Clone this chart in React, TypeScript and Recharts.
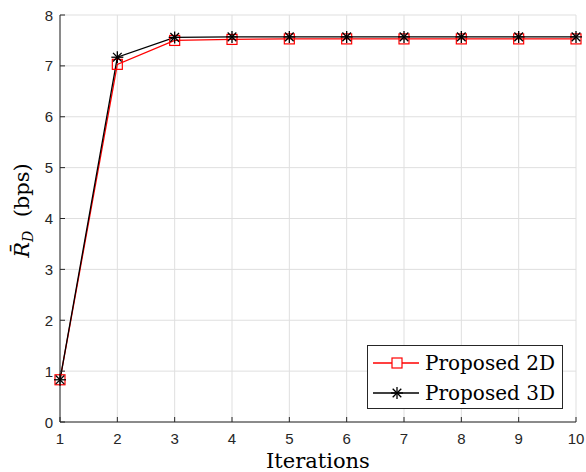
import React from "react";
import { LineChart, Line, XAxis, YAxis, CartesianGrid } from "recharts";

const iterations = [1, 2, 3, 4, 5, 6, 7, 8, 9, 10];
const proposed2D = [0.83, 7.03, 7.5, 7.52, 7.53, 7.53, 7.53, 7.53, 7.53, 7.53];
const proposed3D = [0.83, 7.17, 7.56, 7.57, 7.57, 7.57, 7.57, 7.57, 7.57, 7.57];
const xTicks = [1, 2, 3, 4, 5, 6, 7, 8, 9, 10];
const yTicks = [0, 1, 2, 3, 4, 5, 6, 7, 8];
const seriesNames = ["Proposed 2D", "Proposed 3D"];

const data = iterations.map((it, i) => ({
  it,
  p2: proposed2D[i],
  p3: proposed3D[i],
}));

const AX = "#262626";
const TICK_FONT = "Liberation Sans, Arial, Helvetica, sans-serif";
const SERIF = "DejaVu Serif, Liberation Serif, serif";

const XTickBottom = (props: any) => {
  const { x, y, payload } = props;
  return (
    <g>
      <line x1={x} x2={x} y1={y} y2={y - 5} stroke={AX} strokeWidth={1} />
      <text x={x} y={y + 22} textAnchor="middle" fill={AX} fontSize={15} fontFamily={TICK_FONT}>
        {payload.value}
      </text>
    </g>
  );
};

const XTickTop = (props: any) => {
  const { x, y } = props;
  return <line x1={x} x2={x} y1={y} y2={y + 5} stroke={AX} strokeWidth={1} />;
};

const YTickLeft = (props: any) => {
  const { x, y, payload } = props;
  return (
    <g>
      <line x1={x} x2={x + 5} y1={y} y2={y} stroke={AX} strokeWidth={1} />
      <text x={x - 7} y={y + 5.5} textAnchor="end" fill={AX} fontSize={15} fontFamily={TICK_FONT}>
        {payload.value}
      </text>
    </g>
  );
};

const YTickRight = (props: any) => {
  const { x, y } = props;
  return <line x1={x} x2={x - 5} y1={y} y2={y} stroke={AX} strokeWidth={1} />;
};

const SquareDot = (props: any) => {
  const { cx, cy } = props;
  if (cx == null || cy == null) return null;
  return <rect x={cx - 5} y={cy - 5} width={10} height={10} fill="none" stroke="#ff0000" strokeWidth={1.2} />;
};

const StarDot = (props: any) => {
  const { cx, cy } = props;
  if (cx == null || cy == null) return null;
  const r = 6;
  const d = r * 0.72;
  return (
    <g stroke="#000" strokeWidth={1.3}>
      <line x1={cx - r} x2={cx + r} y1={cy} y2={cy} />
      <line x1={cx} x2={cx} y1={cy - r} y2={cy + r} />
      <line x1={cx - d} x2={cx + d} y1={cy - d} y2={cy + d} />
      <line x1={cx - d} x2={cx + d} y1={cy + d} y2={cy - d} />
    </g>
  );
};

const YLabel = (props: any) => {
  const vb = props.viewBox || { x: 0, y: 15, width: 60, height: 407 };
  const cx = vb.x + 29;
  const cy = vb.y + vb.height / 2 - 8;
  return (
    <text
      x={cx}
      y={cy}
      transform={`rotate(-90, ${cx}, ${cy})`}
      textAnchor="middle"
      style={{ fontFamily: SERIF, fontSize: 21 }}
      fill="#000"
    >
      <tspan fontStyle="italic">R̄</tspan>
      <tspan fontStyle="italic" style={{ fontSize: 14 }} dy={4}>D</tspan>
      <tspan dy={-4}>{"\u00A0\u00A0(bps)"}</tspan>
    </text>
  );
};

const XLabel = (props: any) => {
  const vb = props.viewBox || { x: 60, y: 422, width: 516, height: 50 };
  return (
    <text
      x={vb.x + vb.width / 2}
      y={vb.y + 46}
      textAnchor="middle"
      style={{ fontFamily: SERIF, fontSize: 21 }}
      fill="#000"
    >
      Iterations
    </text>
  );
};

const LegendBox = () => {
  const row = (name: string, color: string, marker: React.ReactNode) => (
    <div style={{ display: "flex", alignItems: "center", height: 30 }}>
      <svg width={52} height={20} style={{ display: "block" }}>
        <line x1={5} x2={51} y1={10} y2={10} stroke={color} strokeWidth={1.3} />
        {marker}
      </svg>
      <span
        style={{
          fontFamily: SERIF,
          fontSize: 20,
          color: "#000",
          marginLeft: 5,
          whiteSpace: "nowrap",
          lineHeight: "30px",
        }}
      >
        {name}
      </span>
    </div>
  );
  return (
    <div
      style={{
        position: "absolute",
        left: 367,
        top: 345,
        border: `1px solid ${AX}`,
        background: "#fff",
        width: 194,
        height: 60,
        paddingTop: 2,
      }}
    >
      {row(seriesNames[0], "#ff0000", <rect x={24} y={5} width={10} height={10} fill="#fff" stroke="#ff0000" strokeWidth={1.2} />)}
      {row(
        seriesNames[1],
        "#000",
        <g stroke="#000" strokeWidth={1.3}>
          <line x1={23} x2={35} y1={10} y2={10} />
          <line x1={29} x2={29} y1={4} y2={16} />
          <line x1={24.7} x2={33.3} y1={5.7} y2={14.3} />
          <line x1={24.7} x2={33.3} y1={14.3} y2={5.7} />
        </g>
      )}
    </div>
  );
};

export default function App() {
  return (
    <div style={{ position: "absolute", left: 0, top: 0, width: 586, height: 472, background: "#fff" }}>
      <LineChart width={586} height={472} data={data} margin={{ top: 15, right: 10, left: 0, bottom: 0 }}>
        <CartesianGrid stroke="#dfdfdf" strokeWidth={1} />
        <XAxis
          dataKey="it"
          type="number"
          domain={[1, 10]}
          ticks={xTicks}
          height={50}
          tickSize={0}
          tickMargin={0}
          tickLine={false}
          axisLine={{ stroke: AX, strokeWidth: 1 }}
          tick={<XTickBottom />}
          interval={0}
          label={<XLabel />}
        />
        <XAxis
          xAxisId="top"
          orientation="top"
          dataKey="it"
          type="number"
          domain={[1, 10]}
          ticks={xTicks}
          height={0}
          tickSize={0}
          tickMargin={0}
          tickLine={false}
          axisLine={{ stroke: AX, strokeWidth: 1 }}
          tick={<XTickTop />}
          interval={0}
        />
        <YAxis
          type="number"
          domain={[0, 8]}
          ticks={yTicks}
          width={60}
          tickSize={0}
          tickMargin={0}
          tickLine={false}
          axisLine={{ stroke: AX, strokeWidth: 1 }}
          tick={<YTickLeft />}
          interval={0}
          label={<YLabel />}
        />
        <YAxis
          yAxisId="right"
          orientation="right"
          type="number"
          domain={[0, 8]}
          ticks={yTicks}
          width={0}
          tickSize={0}
          tickMargin={0}
          tickLine={false}
          axisLine={{ stroke: AX, strokeWidth: 1 }}
          tick={<YTickRight />}
          interval={0}
        />
        <Line
          dataKey="p2"
          name={seriesNames[0]}
          stroke="#ff0000"
          strokeWidth={1.3}
          dot={<SquareDot />}
          activeDot={false}
          isAnimationActive={false}
        />
        <Line
          dataKey="p3"
          name={seriesNames[1]}
          stroke="#000"
          strokeWidth={1.3}
          dot={<StarDot />}
          activeDot={false}
          isAnimationActive={false}
        />
      </LineChart>
      <LegendBox />
    </div>
  );
}
